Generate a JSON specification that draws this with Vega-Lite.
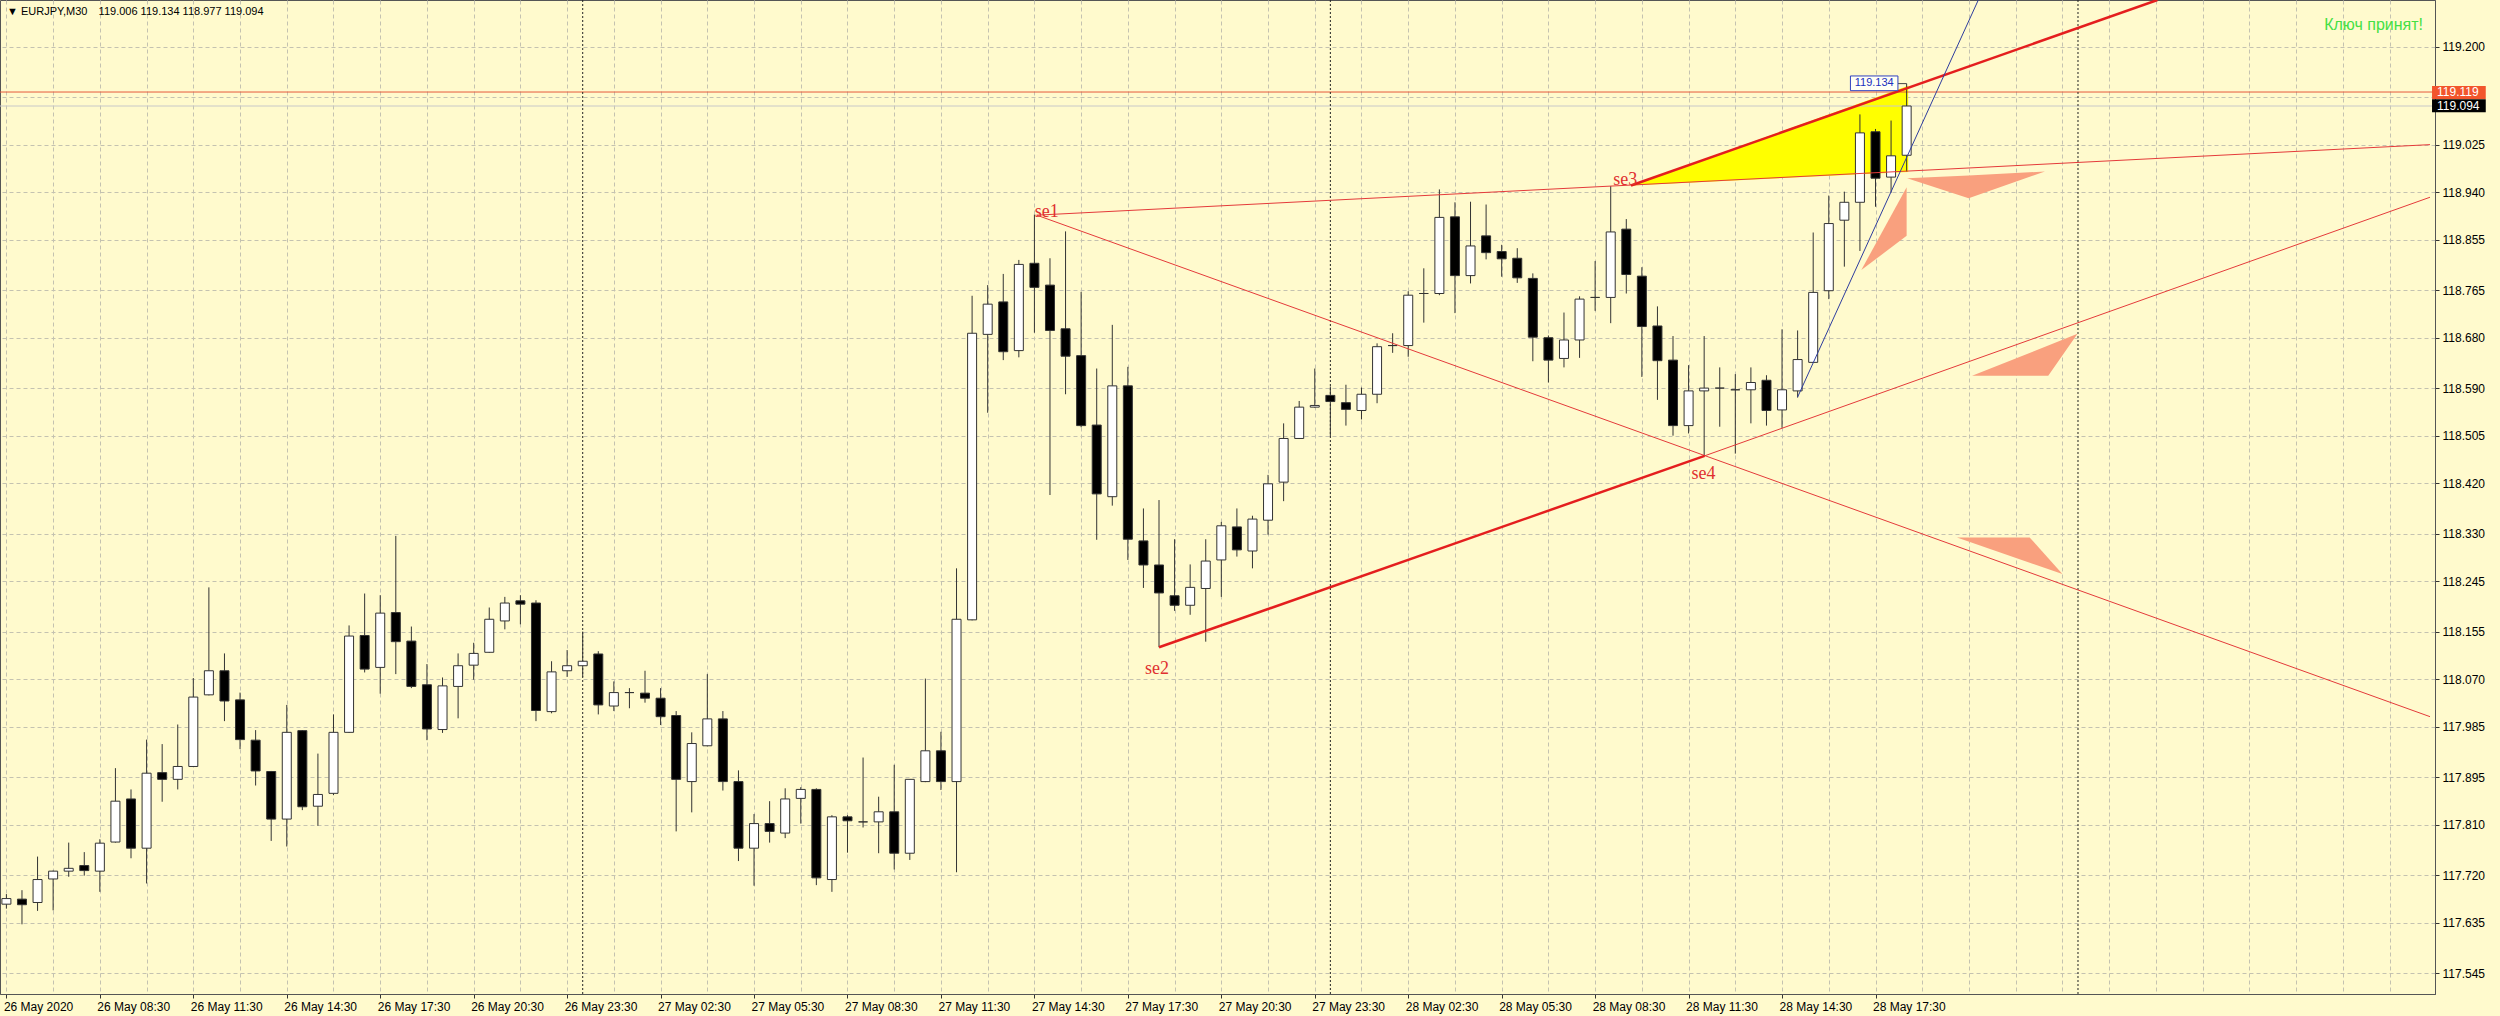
{
  "$schema": "https://vega.github.io/schema/vega-lite/v6.json",
  "autosize": "none",
  "width": 2435,
  "height": 994,
  "padding": {"left": 0, "top": 0, "right": 65, "bottom": 22},
  "background": "#FFFACD",
  "config": {"view": {"stroke": "#555555", "strokeWidth": 1, "fill": "#FFFACD"}},
  "datasets": {
    "candles": [
      {"i":0,"o":117.668,"h":117.686,"l":117.66,"c":117.678},
      {"i":1,"o":117.677,"h":117.693,"l":117.632,"c":117.667},
      {"i":2,"o":117.671,"h":117.753,"l":117.656,"c":117.712},
      {"i":3,"o":117.713,"h":117.728,"l":117.657,"c":117.727},
      {"i":4,"o":117.727,"h":117.778,"l":117.717,"c":117.732},
      {"i":5,"o":117.737,"h":117.761,"l":117.719,"c":117.728},
      {"i":6,"o":117.727,"h":117.784,"l":117.69,"c":117.777},
      {"i":7,"o":117.779,"h":117.911,"l":117.778,"c":117.852},
      {"i":8,"o":117.856,"h":117.873,"l":117.75,"c":117.768},
      {"i":9,"o":117.768,"h":117.962,"l":117.705,"c":117.902},
      {"i":10,"o":117.903,"h":117.954,"l":117.851,"c":117.891},
      {"i":11,"o":117.891,"h":117.989,"l":117.873,"c":117.914},
      {"i":12,"o":117.914,"h":118.072,"l":117.913,"c":118.038},
      {"i":13,"o":118.042,"h":118.234,"l":118.041,"c":118.085},
      {"i":14,"o":118.085,"h":118.116,"l":117.995,"c":118.031},
      {"i":15,"o":118.033,"h":118.046,"l":117.945,"c":117.962},
      {"i":16,"o":117.961,"h":117.979,"l":117.88,"c":117.906},
      {"i":17,"o":117.905,"h":117.906,"l":117.781,"c":117.82},
      {"i":18,"o":117.82,"h":118.024,"l":117.771,"c":117.975},
      {"i":19,"o":117.978,"h":117.979,"l":117.836,"c":117.842},
      {"i":20,"o":117.843,"h":117.937,"l":117.808,"c":117.864},
      {"i":21,"o":117.866,"h":118.007,"l":117.863,"c":117.975},
      {"i":22,"o":117.975,"h":118.166,"l":117.974,"c":118.147},
      {"i":23,"o":118.148,"h":118.223,"l":118.082,"c":118.088},
      {"i":24,"o":118.091,"h":118.22,"l":118.044,"c":118.188},
      {"i":25,"o":118.189,"h":118.326,"l":118.079,"c":118.137},
      {"i":26,"o":118.138,"h":118.164,"l":118.054,"c":118.057},
      {"i":27,"o":118.06,"h":118.097,"l":117.961,"c":117.981},
      {"i":28,"o":117.98,"h":118.073,"l":117.974,"c":118.058},
      {"i":29,"o":118.057,"h":118.116,"l":118.0,"c":118.094},
      {"i":30,"o":118.095,"h":118.135,"l":118.069,"c":118.116},
      {"i":31,"o":118.118,"h":118.198,"l":118.117,"c":118.177},
      {"i":32,"o":118.174,"h":118.217,"l":118.159,"c":118.206},
      {"i":33,"o":118.21,"h":118.22,"l":118.168,"c":118.204},
      {"i":34,"o":118.206,"h":118.211,"l":117.995,"c":118.014},
      {"i":35,"o":118.012,"h":118.102,"l":118.009,"c":118.083},
      {"i":36,"o":118.085,"h":118.122,"l":118.074,"c":118.094},
      {"i":37,"o":118.094,"h":118.155,"l":118.074,"c":118.102},
      {"i":38,"o":118.115,"h":118.12,"l":118.007,"c":118.024},
      {"i":39,"o":118.022,"h":118.066,"l":118.013,"c":118.046},
      {"i":40,"o":118.046,"h":118.054,"l":118.018,"c":118.046},
      {"i":41,"o":118.045,"h":118.085,"l":118.028,"c":118.036},
      {"i":42,"o":118.036,"h":118.054,"l":117.988,"c":118.003},
      {"i":43,"o":118.005,"h":118.013,"l":117.798,"c":117.891},
      {"i":44,"o":117.887,"h":117.975,"l":117.832,"c":117.955},
      {"i":45,"o":117.951,"h":118.079,"l":117.95,"c":117.999},
      {"i":46,"o":117.999,"h":118.013,"l":117.871,"c":117.887},
      {"i":47,"o":117.887,"h":117.907,"l":117.745,"c":117.768},
      {"i":48,"o":117.768,"h":117.829,"l":117.701,"c":117.812},
      {"i":49,"o":117.812,"h":117.852,"l":117.778,"c":117.798},
      {"i":50,"o":117.795,"h":117.875,"l":117.786,"c":117.856},
      {"i":51,"o":117.857,"h":117.877,"l":117.812,"c":117.873},
      {"i":52,"o":117.873,"h":117.875,"l":117.702,"c":117.715},
      {"i":53,"o":117.712,"h":117.827,"l":117.69,"c":117.824},
      {"i":54,"o":117.824,"h":117.827,"l":117.76,"c":117.817},
      {"i":55,"o":117.815,"h":117.93,"l":117.805,"c":117.815},
      {"i":56,"o":117.815,"h":117.86,"l":117.759,"c":117.833},
      {"i":57,"o":117.833,"h":117.917,"l":117.73,"c":117.759},
      {"i":58,"o":117.759,"h":117.891,"l":117.747,"c":117.891},
      {"i":59,"o":117.887,"h":118.071,"l":117.886,"c":117.942},
      {"i":60,"o":117.942,"h":117.976,"l":117.872,"c":117.887},
      {"i":61,"o":117.887,"h":118.268,"l":117.725,"c":118.177},
      {"i":62,"o":118.176,"h":118.755,"l":118.175,"c":118.688},
      {"i":63,"o":118.686,"h":118.774,"l":118.546,"c":118.74},
      {"i":64,"o":118.744,"h":118.794,"l":118.64,"c":118.655},
      {"i":65,"o":118.657,"h":118.819,"l":118.645,"c":118.811},
      {"i":66,"o":118.813,"h":118.9,"l":118.689,"c":118.77},
      {"i":67,"o":118.774,"h":118.822,"l":118.399,"c":118.693},
      {"i":68,"o":118.696,"h":118.87,"l":118.579,"c":118.647},
      {"i":69,"o":118.648,"h":118.762,"l":118.52,"c":118.523},
      {"i":70,"o":118.524,"h":118.625,"l":118.319,"c":118.401},
      {"i":71,"o":118.396,"h":118.703,"l":118.38,"c":118.594},
      {"i":72,"o":118.594,"h":118.628,"l":118.283,"c":118.32},
      {"i":73,"o":118.317,"h":118.375,"l":118.233,"c":118.274},
      {"i":74,"o":118.274,"h":118.39,"l":118.127,"c":118.224},
      {"i":75,"o":118.219,"h":118.32,"l":118.192,"c":118.202},
      {"i":76,"o":118.202,"h":118.275,"l":118.185,"c":118.234},
      {"i":77,"o":118.232,"h":118.32,"l":118.137,"c":118.281},
      {"i":78,"o":118.283,"h":118.351,"l":118.217,"c":118.344},
      {"i":79,"o":118.342,"h":118.375,"l":118.289,"c":118.301},
      {"i":80,"o":118.299,"h":118.362,"l":118.268,"c":118.356},
      {"i":81,"o":118.354,"h":118.435,"l":118.328,"c":118.419},
      {"i":82,"o":118.422,"h":118.527,"l":118.388,"c":118.5},
      {"i":83,"o":118.5,"h":118.567,"l":118.499,"c":118.556},
      {"i":84,"o":118.556,"h":118.625,"l":118.555,"c":118.559},
      {"i":85,"o":118.577,"h":118.593,"l":118.503,"c":118.566},
      {"i":86,"o":118.564,"h":118.596,"l":118.523,"c":118.552},
      {"i":87,"o":118.55,"h":118.591,"l":118.534,"c":118.579},
      {"i":88,"o":118.579,"h":118.67,"l":118.563,"c":118.664},
      {"i":89,"o":118.666,"h":118.688,"l":118.653,"c":118.666},
      {"i":90,"o":118.666,"h":118.763,"l":118.646,"c":118.756},
      {"i":91,"o":118.759,"h":118.804,"l":118.707,"c":118.759},
      {"i":92,"o":118.759,"h":118.945,"l":118.756,"c":118.895},
      {"i":93,"o":118.896,"h":118.922,"l":118.724,"c":118.791},
      {"i":94,"o":118.791,"h":118.923,"l":118.777,"c":118.844},
      {"i":95,"o":118.862,"h":118.918,"l":118.82,"c":118.832},
      {"i":96,"o":118.834,"h":118.846,"l":118.789,"c":118.821},
      {"i":97,"o":118.822,"h":118.84,"l":118.778,"c":118.787},
      {"i":98,"o":118.786,"h":118.795,"l":118.638,"c":118.681},
      {"i":99,"o":118.68,"h":118.684,"l":118.6,"c":118.64},
      {"i":100,"o":118.643,"h":118.725,"l":118.627,"c":118.676},
      {"i":101,"o":118.676,"h":118.754,"l":118.644,"c":118.749},
      {"i":102,"o":118.752,"h":118.817,"l":118.728,"c":118.752},
      {"i":103,"o":118.752,"h":118.951,"l":118.706,"c":118.869},
      {"i":104,"o":118.874,"h":118.892,"l":118.759,"c":118.793},
      {"i":105,"o":118.79,"h":118.806,"l":118.61,"c":118.7},
      {"i":106,"o":118.701,"h":118.736,"l":118.569,"c":118.639},
      {"i":107,"o":118.64,"h":118.683,"l":118.505,"c":118.523},
      {"i":108,"o":118.523,"h":118.631,"l":118.509,"c":118.585},
      {"i":109,"o":118.585,"h":118.683,"l":118.469,"c":118.59},
      {"i":110,"o":118.59,"h":118.627,"l":118.521,"c":118.59},
      {"i":111,"o":118.587,"h":118.615,"l":118.473,"c":118.587},
      {"i":112,"o":118.587,"h":118.627,"l":118.527,"c":118.6},
      {"i":113,"o":118.604,"h":118.613,"l":118.523,"c":118.55},
      {"i":114,"o":118.551,"h":118.695,"l":118.519,"c":118.587},
      {"i":115,"o":118.585,"h":118.693,"l":118.573,"c":118.641},
      {"i":116,"o":118.636,"h":118.868,"l":118.635,"c":118.761},
      {"i":117,"o":118.764,"h":118.934,"l":118.749,"c":118.884},
      {"i":118,"o":118.89,"h":118.941,"l":118.807,"c":118.922},
      {"i":119,"o":118.922,"h":119.079,"l":118.835,"c":119.046},
      {"i":120,"o":119.048,"h":119.053,"l":118.914,"c":118.965},
      {"i":121,"o":118.967,"h":119.068,"l":118.939,"c":119.005},
      {"i":122,"o":119.006,"h":119.134,"l":118.977,"c":119.094}
    ],
    "yellow": [
      {"x":104.3,"p":118.952,"p2":118.952},
      {"x":122.1,"p":119.13,"p2":118.976}
    ],
    "salmon": [
      {"t":"a","x":122.03,"p":118.965,"p2":118.965},
      {"t":"a","x":125.98,"p":118.97,"p2":118.929},
      {"t":"a","x":130.88,"p":118.977,"p2":118.977},
      {"t":"b","x":119.09,"p":118.801,"p2":118.801},
      {"t":"b","x":122.0,"p":118.949,"p2":118.862},
      {"t":"c","x":126.2,"p":118.612,"p2":118.612},
      {"t":"c","x":131.09,"p":118.666,"p2":118.612},
      {"t":"c","x":132.97,"p":118.687,"p2":118.687},
      {"t":"d","x":125.23,"p":118.323,"p2":118.323},
      {"t":"d","x":129.9,"p":118.323,"p2":118.278},
      {"t":"d","x":132.0,"p":118.258,"p2":118.258}
    ],
    "seps": [{"x":37},{"x":85},{"x":133}],
    "thin": [
      {"id":"se1-se3","x":66.15,"p":118.899},
      {"id":"se1-se3","x":155.6,"p":119.025},
      {"id":"se1-down","x":66.15,"p":118.899},
      {"id":"se1-down","x":155.6,"p":118.003},
      {"id":"se4-up","x":109.03,"p":118.469},
      {"id":"se4-up","x":155.6,"p":118.931}
    ],
    "thick": [
      {"id":"se2-se4","x":74.0,"p":118.127},
      {"id":"se2-se4","x":109.03,"p":118.469},
      {"id":"se3-up","x":104.3,"p":118.952},
      {"id":"se3-up","x":138.1,"p":119.2834}
    ],
    "blue": [
      {"x":115.0,"p":118.574},
      {"x":126.6,"p":119.2834}
    ],
    "selabels": [
      {"x":66.02,"p":118.896,"t":"se1"},
      {"x":73.1,"p":118.08,"t":"se2"},
      {"x":103.17,"p":118.953,"t":"se3"},
      {"x":108.18,"p":118.427,"t":"se4"}
    ]
  },
  "layer": [
    {
      "data": {"name": "yellow"},
      "mark": {"type": "area", "color": "#FFFF00", "opacity": 1},
      "encoding": {
        "x": {"field": "x", "type": "quantitative", "scale": {"domain": [-0.09, 155.6], "nice": false, "zero": false}},
        "y": {"field": "p", "type": "quantitative", "scale": {"domain": [117.5075, 119.2834], "nice": false, "zero": false}},
        "y2": {"field": "p2"}
      }
    },
    {
      "data": {"name": "salmon"},
      "mark": {"type": "area", "color": "#F9A07E", "opacity": 1},
      "encoding": {
        "x": {"field": "x", "type": "quantitative", "scale": {"domain": [-0.09, 155.6], "nice": false, "zero": false}},
        "y": {"field": "p", "type": "quantitative", "scale": {"domain": [117.5075, 119.2834], "nice": false, "zero": false}},
        "y2": {"field": "p2"},
        "detail": {"field": "t"}
      }
    },
    {
      "data": {"values": [{"p": 119.094}]},
      "mark": {"type": "rule", "color": "#C8C8C8", "strokeWidth": 1},
      "encoding": {
        "y": {"field": "p", "type": "quantitative", "scale": {"domain": [117.5075, 119.2834], "nice": false, "zero": false}}
      }
    },
    {
      "data": {"values": [{"p": 119.119}]},
      "mark": {"type": "rule", "color": "#E65A3A", "strokeWidth": 1},
      "encoding": {
        "y": {"field": "p", "type": "quantitative", "scale": {"domain": [117.5075, 119.2834], "nice": false, "zero": false}}
      }
    },
    {
      "data": {"name": "seps"},
      "mark": {"type": "rule", "color": "#222222", "strokeWidth": 1, "strokeDash": [2, 2]},
      "encoding": {
        "x": {"field": "x", "type": "quantitative", "scale": {"domain": [-0.09, 155.6], "nice": false, "zero": false}}
      }
    },
    {
      "data": {"name": "candles"},
      "mark": {"type": "rule", "color": "#333333", "strokeWidth": 1},
      "encoding": {
        "x": {
          "field": "i", "type": "quantitative",
          "scale": {"domain": [-0.09, 155.6], "nice": false, "zero": false},
          "axis": {
            "orient": "bottom",
            "title": null,
            "values": [0,3,6,9,12,15,18,21,24,27,30,33,36,39,42,45,48,51,54,57,60,63,66,69,72,75,78,81,84,87,90,93,96,99,102,105,108,111,114,117,120,123,126,129,132,135,138,141,144,147,150,153],
            "labelExpr": "(datum.value % 6 === 0 && datum.value <= 120) ? ['26 May 2020','26 May 08:30','26 May 11:30','26 May 14:30','26 May 17:30','26 May 20:30','26 May 23:30','27 May 02:30','27 May 05:30','27 May 08:30','27 May 11:30','27 May 14:30','27 May 17:30','27 May 20:30','27 May 23:30','28 May 02:30','28 May 05:30','28 May 08:30','28 May 11:30','28 May 14:30','28 May 17:30'][datum.value / 6] : ''",
            "labelAlign": "left",
            "labelPadding": 3,
            "labelOffset": -3,
            "labelFont": "Liberation Sans",
            "labelFontSize": 12,
            "labelColor": "#000000",
            "labelOverlap": false,
            "labelFlush": false,
            "labelBound": false,
            "tickSize": 4,
            "tickColor": "#333333",
            "tickOpacity": {"condition": {"test": "datum.value % 6 === 0 && datum.value <= 120", "value": 1}, "value": 0},
            "domain": true,
            "domainColor": "#555555",
            "grid": true,
            "gridColor": "#C4C2B0",
            "gridDash": [4, 3],
            "gridWidth": 1
          }
        },
        "y": {
          "field": "l", "type": "quantitative",
          "scale": {"domain": [117.5075, 119.2834], "nice": false, "zero": false},
          "axis": {
            "orient": "right",
            "title": null,
            "values": [117.545, 117.635, 117.72, 117.81, 117.895, 117.985, 118.07, 118.155, 118.245, 118.33, 118.42, 118.505, 118.59, 118.68, 118.765, 118.855, 118.94, 119.025, 119.11, 119.2],
            "labelExpr": "(datum.value > 119.1 && datum.value < 119.15) ? '' : format(datum.value, '.3f')",
            "labelPadding": 3,
            "labelFont": "Liberation Sans",
            "labelFontSize": 12,
            "labelColor": "#000000",
            "labelOverlap": false,
            "labelBound": false,
            "labelFlush": false,
            "tickSize": 4,
            "tickColor": "#333333",
            "domain": true,
            "domainColor": "#555555",
            "grid": true,
            "gridColor": "#C4C2B0",
            "gridDash": [4, 3],
            "gridWidth": 1
          }
        },
        "y2": {"field": "h"}
      }
    },
    {
      "data": {"name": "candles"},
      "mark": {"type": "bar", "size": 9, "stroke": "#333333", "strokeWidth": 1},
      "encoding": {
        "x": {"field": "i", "type": "quantitative", "scale": {"domain": [-0.09, 155.6], "nice": false, "zero": false}},
        "y": {"field": "o", "type": "quantitative", "scale": {"domain": [117.5075, 119.2834], "nice": false, "zero": false}},
        "y2": {"field": "c"},
        "fill": {"condition": {"test": "datum.c >= datum.o", "value": "#FFFFFF"}, "value": "#000000"}
      }
    },
    {
      "data": {"name": "thin"},
      "mark": {"type": "line", "color": "#E43A3A", "strokeWidth": 1},
      "encoding": {
        "x": {"field": "x", "type": "quantitative", "scale": {"domain": [-0.09, 155.6], "nice": false, "zero": false}},
        "y": {"field": "p", "type": "quantitative", "scale": {"domain": [117.5075, 119.2834], "nice": false, "zero": false}},
        "detail": {"field": "id"}
      }
    },
    {
      "data": {"name": "thick"},
      "mark": {"type": "line", "color": "#E41E1E", "strokeWidth": 2.5},
      "encoding": {
        "x": {"field": "x", "type": "quantitative", "scale": {"domain": [-0.09, 155.6], "nice": false, "zero": false}},
        "y": {"field": "p", "type": "quantitative", "scale": {"domain": [117.5075, 119.2834], "nice": false, "zero": false}},
        "detail": {"field": "id"}
      }
    },
    {
      "data": {"name": "blue"},
      "mark": {"type": "line", "color": "#2E3D9E", "strokeWidth": 1},
      "encoding": {
        "x": {"field": "x", "type": "quantitative", "scale": {"domain": [-0.09, 155.6], "nice": false, "zero": false}},
        "y": {"field": "p", "type": "quantitative", "scale": {"domain": [117.5075, 119.2834], "nice": false, "zero": false}}
      }
    },
    {
      "data": {"name": "selabels"},
      "mark": {"type": "text", "align": "left", "baseline": "alphabetic", "font": "Liberation Serif", "fontSize": 18, "color": "#E03030"},
      "encoding": {
        "x": {"field": "x", "type": "quantitative", "scale": {"domain": [-0.09, 155.6], "nice": false, "zero": false}},
        "y": {"field": "p", "type": "quantitative", "scale": {"domain": [117.5075, 119.2834], "nice": false, "zero": false}},
        "text": {"field": "t"}
      }
    },
    {
      "data": {"values": [{"x": 121.44, "x2": 122.0, "p": 119.134}]},
      "mark": {"type": "rule", "color": "#444444", "strokeWidth": 1},
      "encoding": {
        "x": {"field": "x", "type": "quantitative", "scale": {"domain": [-0.09, 155.6], "nice": false, "zero": false}},
        "x2": {"field": "x2"},
        "y": {"field": "p", "type": "quantitative", "scale": {"domain": [117.5075, 119.2834], "nice": false, "zero": false}}
      }
    },
    {
      "data": {"values": [{"x": 118.39, "x2": 121.44, "p": 119.1477, "p2": 119.1214}]},
      "mark": {"type": "rect", "fill": "#FFFFF4", "stroke": "#3040C0", "strokeWidth": 1},
      "encoding": {
        "x": {"field": "x", "type": "quantitative", "scale": {"domain": [-0.09, 155.6], "nice": false, "zero": false}},
        "x2": {"field": "x2"},
        "y": {"field": "p", "type": "quantitative", "scale": {"domain": [117.5075, 119.2834], "nice": false, "zero": false}},
        "y2": {"field": "p2"}
      }
    },
    {
      "data": {"values": [{"x": 119.915, "p": 119.1345, "t": "119.134"}]},
      "mark": {"type": "text", "align": "center", "baseline": "middle", "font": "Liberation Sans", "fontSize": 11, "color": "#2030C0"},
      "encoding": {
        "x": {"field": "x", "type": "quantitative", "scale": {"domain": [-0.09, 155.6], "nice": false, "zero": false}},
        "y": {"field": "p", "type": "quantitative", "scale": {"domain": [117.5075, 119.2834], "nice": false, "zero": false}},
        "text": {"field": "t"}
      }
    },
    {
      "data": {"values": [
        {"x": 0.04, "p": 119.2625, "t": "▼ EURJPY,M30"},
        {"x": 5.92, "p": 119.2625, "t": "119.006 119.134 118.977 119.094"}
      ]},
      "mark": {"type": "text", "align": "left", "baseline": "middle", "font": "Liberation Sans", "fontSize": 11, "color": "#000000"},
      "encoding": {
        "x": {"field": "x", "type": "quantitative", "scale": {"domain": [-0.09, 155.6], "nice": false, "zero": false}},
        "y": {"field": "p", "type": "quantitative", "scale": {"domain": [117.5075, 119.2834], "nice": false, "zero": false}},
        "text": {"field": "t"}
      }
    },
    {
      "data": {"values": [{"x": 155.15, "p": 119.2379, "t": "Ключ принят!"}]},
      "mark": {"type": "text", "align": "right", "baseline": "middle", "font": "Liberation Sans", "fontSize": 16, "color": "#44E044"},
      "encoding": {
        "x": {"field": "x", "type": "quantitative", "scale": {"domain": [-0.09, 155.6], "nice": false, "zero": false}},
        "y": {"field": "p", "type": "quantitative", "scale": {"domain": [117.5075, 119.2834], "nice": false, "zero": false}},
        "text": {"field": "t"}
      }
    },
    {
      "data": {"values": [{"x": 155.73, "x2": 159.18, "p": 119.1298, "p2": 119.1066}]},
      "mark": {"type": "rect", "fill": "#F2552C"},
      "encoding": {
        "x": {"field": "x", "type": "quantitative", "scale": {"domain": [-0.09, 155.6], "nice": false, "zero": false}},
        "x2": {"field": "x2"},
        "y": {"field": "p", "type": "quantitative", "scale": {"domain": [117.5075, 119.2834], "nice": false, "zero": false}},
        "y2": {"field": "p2"}
      }
    },
    {
      "data": {"values": [{"x": 155.73, "x2": 159.18, "p": 119.1062, "p2": 119.0828}]},
      "mark": {"type": "rect", "fill": "#000000"},
      "encoding": {
        "x": {"field": "x", "type": "quantitative", "scale": {"domain": [-0.09, 155.6], "nice": false, "zero": false}},
        "x2": {"field": "x2"},
        "y": {"field": "p", "type": "quantitative", "scale": {"domain": [117.5075, 119.2834], "nice": false, "zero": false}},
        "y2": {"field": "p2"}
      }
    },
    {
      "data": {"values": [
        {"x": 156.05, "p": 119.1185, "t": "119.119"},
        {"x": 156.05, "p": 119.0945, "t": "119.094"}
      ]},
      "mark": {"type": "text", "align": "left", "baseline": "middle", "font": "Liberation Sans", "fontSize": 12, "color": "#FFFFFF"},
      "encoding": {
        "x": {"field": "x", "type": "quantitative", "scale": {"domain": [-0.09, 155.6], "nice": false, "zero": false}},
        "y": {"field": "p", "type": "quantitative", "scale": {"domain": [117.5075, 119.2834], "nice": false, "zero": false}},
        "text": {"field": "t"}
      }
    }
  ]
}
